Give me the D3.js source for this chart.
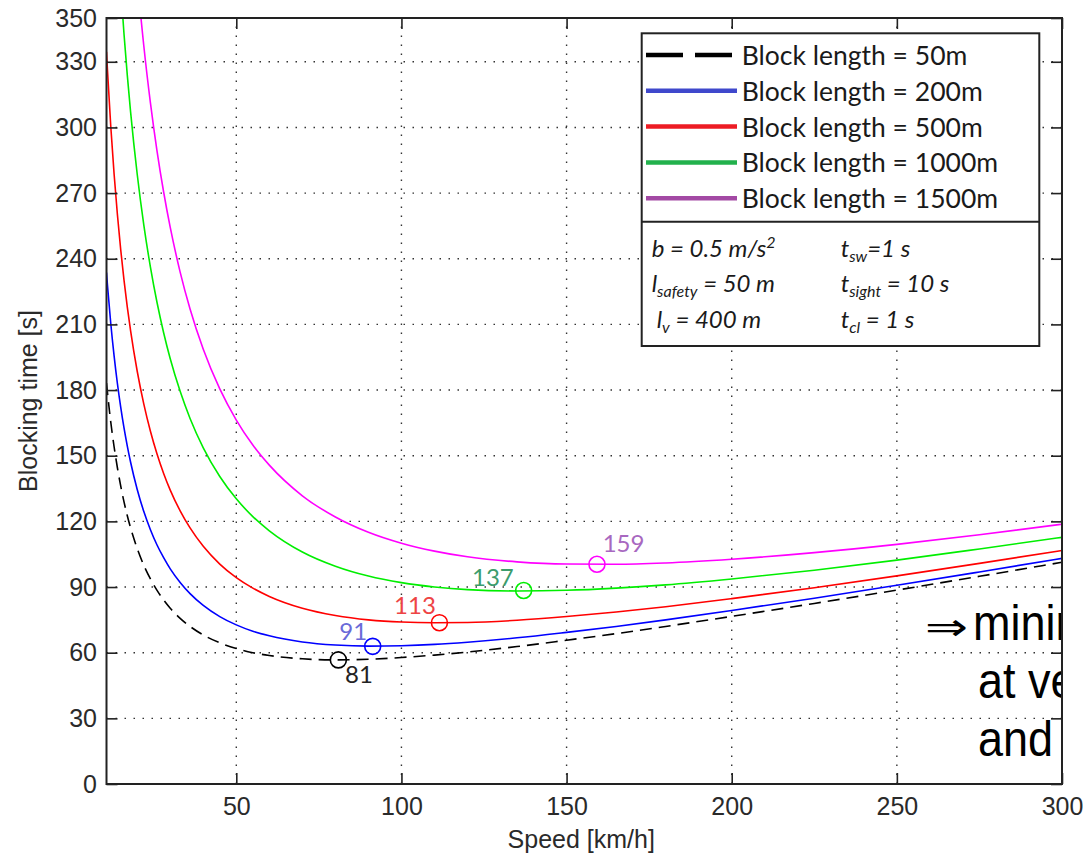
<!DOCTYPE html>
<html><head><meta charset="utf-8">
<script src="https://cdn.jsdelivr.net/npm/d3@7"></script>
<style>html,body{margin:0;padding:0;background:#fff;} svg{display:block}</style>
</head><body>
<svg id="chart" width="1083" height="857"></svg>
<script>
// ---- data ----
const speeds    = [10.7, 11, 12, 13, 14, 15, 16, 17, 18, 20, 22, 24, 26, 28, 30, 33, 36, 40, 45, 50, 55, 60, 70, 80, 90, 100, 110, 120, 135, 150, 165, 180, 200, 225, 250, 275, 300];
const block50   = [183.2, 178.7, 165.3, 154.1, 144.5, 136.2, 128.9, 122.6, 117.0, 107.6, 99.9, 93.7, 88.5, 84.1, 80.3, 75.7, 72.0, 68.1, 64.5, 61.9, 60.0, 58.7, 57.2, 56.7, 57.0, 57.8, 58.9, 60.3, 62.8, 65.7, 68.7, 72.0, 76.6, 82.5, 88.6, 94.9, 101.3];
const block200  = [233.7, 227.8, 210.3, 195.6, 183.0, 172.2, 162.7, 154.4, 147.0, 134.6, 124.5, 116.2, 109.2, 103.4, 98.3, 92.1, 87.0, 81.6, 76.5, 72.7, 69.8, 67.7, 64.9, 63.5, 63.0, 63.2, 63.8, 64.8, 66.8, 69.3, 72.0, 75.0, 79.3, 84.9, 90.8, 96.9, 103.1];
const block500  = [334.6, 326.0, 300.3, 278.7, 260.2, 244.2, 230.2, 217.9, 207.0, 188.6, 173.6, 161.2, 150.8, 141.9, 134.3, 124.8, 117.0, 108.6, 100.5, 94.3, 89.5, 85.7, 80.3, 77.0, 75.0, 74.0, 73.7, 73.8, 74.8, 76.5, 78.6, 81.0, 84.7, 89.7, 95.1, 100.8, 106.7];
const block1000 = [502.8, 489.6, 450.3, 417.2, 388.8, 364.2, 342.7, 323.8, 307.0, 278.6, 255.4, 236.2, 220.0, 206.2, 194.3, 179.4, 167.0, 153.6, 140.5, 130.3, 122.2, 115.7, 106.0, 99.5, 95.0, 92.0, 90.0, 88.8, 88.2, 88.5, 89.5, 91.0, 93.7, 97.7, 102.3, 107.4, 112.7];
const block1500 = [671.0, 653.2, 600.3, 555.6, 517.3, 484.2, 455.2, 429.7, 407.0, 368.6, 337.2, 311.2, 289.2, 270.5, 254.3, 233.9, 217.0, 198.6, 180.5, 166.3, 154.9, 145.7, 131.7, 122.0, 115.0, 110.0, 106.4, 103.8, 101.5, 100.5, 100.4, 101.0, 102.7, 105.7, 109.5, 113.9, 118.7];
const seriesNames = ["Block length = 50m", "Block length = 200m", "Block length = 500m", "Block length = 1000m", "Block length = 1500m"];
const optSpeed = [80.9, 91.3, 111.5, 137, 159.2];
const optTime  = [56.7, 62.9, 73.7, 88.4, 100.4];
const optLabel = ["81", "91", "113", "137", "159"];
const xTicks = [50, 100, 150, 200, 250, 300];
const yTicks = [0, 30, 60, 90, 120, 150, 180, 210, 240, 270, 300, 330, 350];
const xTitle = "Speed [km/h]";
const yTitle = "Blocking time [s]";

// ---- styles ----
const lineColors   = ["#000000", "#0000ff", "#ff0000", "#00ee00", "#ff00ff"];
const legendColors = ["#000000", "#3f48cc", "#ed1c24", "#22b14c", "#a349a4"];
const labelColors  = ["#222222", "#6a6ad8", "#ee4444", "#3c9c6c", "#a868c0"];
const labelOffsets = [[6.7, 23.3], [-33.4, -6.7], [-45.3, -9], [-51.6, -4.3], [5.7, -12.3]];

const allSeries = [block50, block200, block500, block1000, block1500];

const svg = d3.select("#chart");
const L = 106.5, R = 1062, T = 18, B = 784;
const x = d3.scaleLinear().domain([10.7, 300]).range([L, R]);
const y = d3.scaleLinear().domain([0, 350]).range([B, T]);

svg.append("rect").attr("width", 1083).attr("height", 857).attr("fill", "#fff");

const defs = svg.append("defs");
defs.append("clipPath").attr("id", "plotclip").append("rect")
  .attr("x", L).attr("y", T).attr("width", R - L).attr("height", B - T);
defs.append("clipPath").attr("id", "textclip").append("rect")
  .attr("x", 0).attr("y", 0).attr("width", R - 1).attr("height", 857);

// grid
const grid = svg.append("g").attr("stroke", "#333").attr("stroke-width", 1.4).attr("stroke-dasharray", "1.5,7.5");
grid.selectAll(".gx").data(xTicks.filter(d => d < 300)).join("line")
  .attr("x1", d => x(d)).attr("x2", d => x(d)).attr("y1", B).attr("y2", T);
grid.selectAll(".gy").data(yTicks.filter(d => d > 0 && d < 350)).join("line")
  .attr("y1", d => y(d)).attr("y2", d => y(d)).attr("x1", L).attr("x2", R);

// curves
const line = d3.line().x(d => x(d[0])).y(d => y(d[1])).curve(d3.curveMonotoneX);
const curves = svg.append("g").attr("clip-path", "url(#plotclip)");
allSeries.forEach((s, i) => {
  curves.append("path")
    .attr("d", line(speeds.map((v, k) => [v, s[k]])))
    .attr("fill", "none")
    .attr("stroke", lineColors[i])
    .attr("stroke-width", 1.6)
    .attr("stroke-dasharray", i === 0 ? "12,7" : null);
});

// optimum markers + labels
optSpeed.forEach((v, i) => {
  svg.append("circle").attr("cx", x(v)).attr("cy", y(optTime[i])).attr("r", 8)
    .attr("fill", "none").attr("stroke", lineColors[i]).attr("stroke-width", 1.6);
  svg.append("text").attr("x", x(v) + labelOffsets[i][0]).attr("y", y(optTime[i]) + labelOffsets[i][1])
    .attr("font-family", "Lato, 'Open Sans', sans-serif").attr("font-size", 24)
    .attr("fill", labelColors[i]).text(optLabel[i]);
});

// axes
const tickFont = "'Liberation Sans', Arial, sans-serif";
const axB = svg.append("g").attr("transform", `translate(0,${B})`)
  .call(d3.axisBottom(x).tickValues(xTicks).tickSize(-11).tickSizeOuter(0).tickPadding(13));
const axL = svg.append("g").attr("transform", `translate(${L},0)`)
  .call(d3.axisLeft(y).tickValues(yTicks).tickSize(-11).tickSizeOuter(0).tickPadding(9.5));
const axT = svg.append("g").attr("transform", `translate(0,${T})`)
  .call(d3.axisTop(x).tickValues(xTicks).tickSize(-11).tickSizeOuter(0).tickFormat(""));
const axR = svg.append("g").attr("transform", `translate(${R},0)`)
  .call(d3.axisRight(y).tickValues(yTicks).tickSize(-11).tickSizeOuter(0).tickFormat(""));
[axB, axL, axT, axR].forEach(a => {
  a.select(".domain").remove();
  a.selectAll(".tick line").attr("stroke", "#222").attr("stroke-width", 1.6);
  a.selectAll(".tick text").attr("font-family", tickFont).attr("font-size", 25).attr("fill", "#2a2a2a");
});
svg.append("rect").attr("x", L).attr("y", T).attr("width", R - L).attr("height", B - T)
  .attr("fill", "none").attr("stroke", "#222").attr("stroke-width", 2);

// axis titles
svg.append("text").attr("x", (L + R) / 2 - 3).attr("y", 848).attr("text-anchor", "middle")
  .attr("font-family", tickFont).attr("font-size", 25).attr("fill", "#2a2a2a").text(xTitle);
svg.append("text").attr("transform", `translate(37,${(T + B) / 2}) rotate(-90)`).attr("text-anchor", "middle")
  .attr("font-family", tickFont).attr("font-size", 25).attr("fill", "#2a2a2a").text(yTitle);

// legend
const lg = svg.append("g");
lg.append("rect").attr("x", 641.7).attr("y", 33.3).attr("width", 397.6).attr("height", 312.7)
  .attr("fill", "#fff").attr("stroke", "#222").attr("stroke-width", 2);
lg.append("line").attr("x1", 641.7).attr("x2", 1039.3).attr("y1", 221.7).attr("y2", 221.7)
  .attr("stroke", "#222").attr("stroke-width", 2);
const legFont = "Lato, 'Open Sans', sans-serif";
seriesNames.forEach((n, i) => {
  const ly = 55 + i * 35.8;
  lg.append("line").attr("x1", 646).attr("x2", 737).attr("y1", ly).attr("y2", ly)
    .attr("stroke", legendColors[i]).attr("stroke-width", 4.5)
    .attr("stroke-dasharray", i === 0 ? "37,12" : null);
  lg.append("text").attr("x", 741.7).attr("y", ly + 10).attr("font-family", legFont)
    .attr("font-size", 26.5).attr("fill", "#1a1a1a").text(n);
});
// parameters
const params = [
  {x: 651.7, y: 257, parts: [["b = 0.5 m/s", 0], ["2", 2]]},
  {x: 840.7, y: 257, parts: [["t", 0], ["sw", 1], ["=1 s", 0]]},
  {x: 651.7, y: 292, parts: [["l", 0], ["safety", 1], [" = 50 m", 0]]},
  {x: 840.7, y: 292, parts: [["t", 0], ["sight", 1], [" = 10 s", 0]]},
  {x: 656.7, y: 328, parts: [["l", 0], ["v", 1], [" = 400 m", 0]]},
  {x: 840.7, y: 328, parts: [["t", 0], ["cl", 1], [" = 1 s", 0]]}
];
params.forEach(p => {
  const t = lg.append("text").attr("x", p.x).attr("y", p.y).attr("font-family", legFont)
    .attr("font-style", "italic").attr("font-size", 24).attr("fill", "#1a1a1a");
  let shift = 0;
  p.parts.forEach(([s, k]) => {
    const target = k === 1 ? 5 : (k === 2 ? -9 : 0);
    t.append("tspan").attr("dy", target - shift).attr("font-size", k === 0 ? 24 : 16).text(s);
    shift = target;
  });
});

// overlay text (clipped at the right axis, as in the reference)
const ov = svg.append("g").attr("clip-path", "url(#textclip)")
  .attr("font-family", "'Liberation Sans', Arial, 'DejaVu Sans', sans-serif").attr("fill", "#000");
ov.append("text").attr("transform", "translate(925,640) scale(1.35,1)")
  .attr("font-family", "'DejaVu Sans', sans-serif").attr("font-size", 38).text("\u21D2");
const ovLines = [["minimum", 973, 640], ["at very", 978, 698], ["and long", 978, 756]];
ovLines.forEach(([s, ox, oy]) => {
  ov.append("text").attr("transform", `translate(${ox},${oy}) scale(0.9,1)`)
    .attr("font-size", 50).text(s);
});
</script>
</body></html>
